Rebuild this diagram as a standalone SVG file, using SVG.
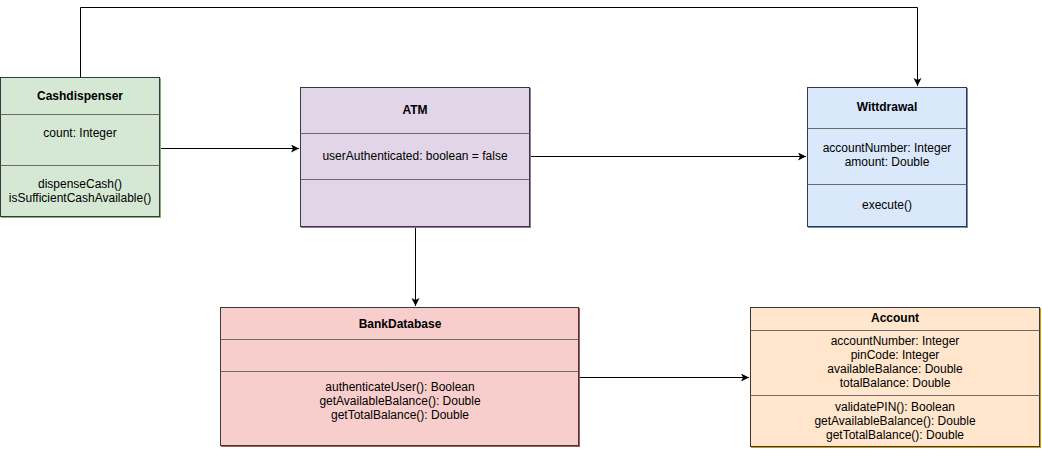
<svg xmlns="http://www.w3.org/2000/svg" width="1042" height="449" viewBox="0 0 1042 449">
<style>
text{font-family:"Liberation Sans",Arial,sans-serif;font-size:12px;fill:#000;text-anchor:middle}
.t{font-weight:bold}
.box{stroke:#36393d;stroke-width:1}
.div{stroke:#6b6b6b;stroke-width:1}
.conn{fill:none;stroke:#000;stroke-width:1}
</style>
<defs>
<marker id="arr" markerWidth="10" markerHeight="10" refX="8" refY="4" orient="auto" markerUnits="userSpaceOnUse">
<path d="M0,0 L8,4 L0,8 L2,4 Z" fill="#000"/>
</marker>
</defs>
<rect width="1042" height="449" fill="#fff"/>
<g id="connectors">
<path class="conn" d="M80.5,77 V7.5 H917.5 V86" marker-end="url(#arr)"/>
<path class="conn" d="M160,148.5 H299" marker-end="url(#arr)"/>
<path class="conn" d="M530,156.5 H806" marker-end="url(#arr)"/>
<path class="conn" d="M415.5,226 V306" marker-end="url(#arr)"/>
<path class="conn" d="M579,377.5 H749" marker-end="url(#arr)"/>
</g>
<g id="cashdispenser">
<rect x="1.5" y="78.5" width="159" height="139" fill="none" stroke="#82b366" stroke-width="1"/>
<rect class="box" x="0.5" y="77.5" width="159" height="139" fill="#d5e8d4"/>
<line class="div" x1="0.5" y1="114.5" x2="159.5" y2="114.5"/>
<line class="div" x1="0.5" y1="165.5" x2="159.5" y2="165.5"/>
<text class="t" x="80" y="100">Cashdispenser</text>
<text x="80" y="137">count: Integer</text>
<text x="80" y="188">dispenseCash()</text>
<text x="80" y="202">isSufficientCashAvailable()</text>
</g>
<g id="atm">
<rect x="301.5" y="88.5" width="229" height="139" fill="none" stroke="#9673a6" stroke-width="1"/>
<rect class="box" x="300.5" y="87.5" width="229" height="139" fill="#e1d5e7"/>
<line class="div" x1="300.5" y1="133.5" x2="529.5" y2="133.5"/>
<line class="div" x1="300.5" y1="179.5" x2="529.5" y2="179.5"/>
<text class="t" x="415" y="114">ATM</text>
<text x="415" y="160">userAuthenticated: boolean = false</text>
</g>
<g id="wittdrawal">
<rect x="808.5" y="88.5" width="159" height="139" fill="none" stroke="#6c8ebf" stroke-width="1"/>
<rect class="box" x="807.5" y="87.5" width="159" height="139" fill="#dae8fc"/>
<line class="div" x1="807.5" y1="128.5" x2="966.5" y2="128.5"/>
<line class="div" x1="807.5" y1="184.5" x2="966.5" y2="184.5"/>
<text class="t" x="887" y="111">Wittdrawal</text>
<text x="887" y="152">accountNumber: Integer</text>
<text x="887" y="166">amount: Double</text>
<text x="887" y="209">execute()</text>
</g>
<g id="bankdatabase">
<rect x="221.5" y="308.5" width="358" height="138" fill="none" stroke="#b85450" stroke-width="1"/>
<rect class="box" x="220.5" y="307.5" width="358" height="138" fill="#f8cecc"/>
<line class="div" x1="220.5" y1="339.5" x2="578.5" y2="339.5"/>
<line class="div" x1="220.5" y1="371.5" x2="578.5" y2="371.5"/>
<text class="t" x="400" y="328">BankDatabase</text>
<text x="400" y="391">authenticateUser(): Boolean</text>
<text x="400" y="405">getAvailableBalance(): Double</text>
<text x="400" y="419">getTotalBalance(): Double</text>
</g>
<g id="account">
<rect x="751.5" y="308.5" width="289" height="139" fill="none" stroke="#d79b00" stroke-width="1"/>
<rect class="box" x="750.5" y="307.5" width="289" height="139" fill="#ffe6cc"/>
<line class="div" x1="750.5" y1="330.5" x2="1039.5" y2="330.5"/>
<line class="div" x1="750.5" y1="395.5" x2="1039.5" y2="395.5"/>
<text class="t" x="895" y="322">Account</text>
<text x="895" y="345">accountNumber: Integer</text>
<text x="895" y="359">pinCode: Integer</text>
<text x="895" y="373">availableBalance: Double</text>
<text x="895" y="387">totalBalance: Double</text>
<text x="895" y="411">validatePIN(): Boolean</text>
<text x="895" y="425">getAvailableBalance(): Double</text>
<text x="895" y="439">getTotalBalance(): Double</text>
</g>
</svg>
